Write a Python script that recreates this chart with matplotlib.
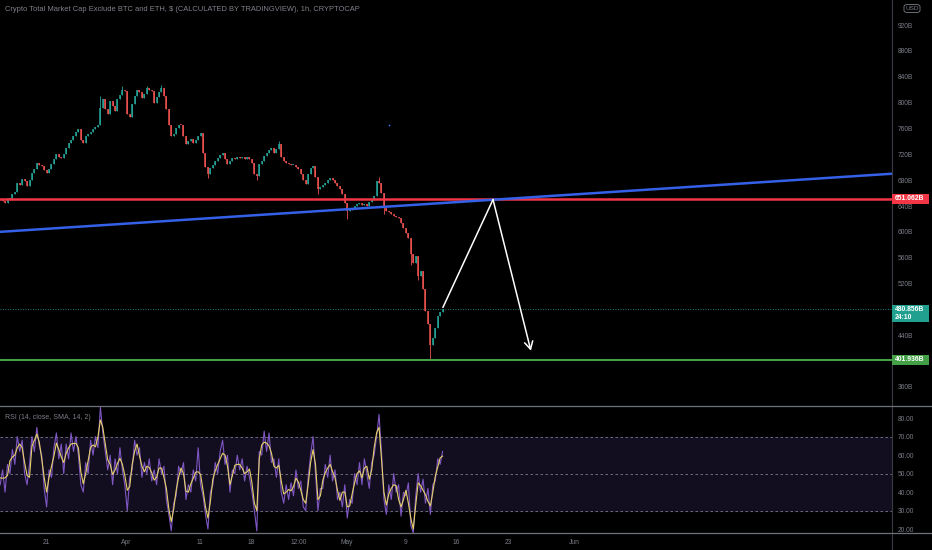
import numpy as np
import pandas as pd
import matplotlib
matplotlib.use("Agg")
import matplotlib.pyplot as plt
import matplotlib.dates as mdates
import matplotlib.transforms as mtransforms
from matplotlib.patches import Rectangle, FancyBboxPatch
from matplotlib.lines import Line2D

plt.rcParams["font.family"] = ["Liberation Sans", "DejaVu Sans"]

# ---- data (8h steps from 2022-03-14 18:00) ----
START = "2022-03-14 18:00"
STEP = "8h"
OPEN0 = 650
closes = [
    651, 648, 645, 652, 649, 658, 662, 676, 672, 682, 678, 671, 680, 691, 698, 707,
    704, 702, 696, 691, 697, 705, 712, 720, 716, 714, 721, 730, 737, 742, 749, 755,
    759, 742, 738, 748, 751, 755, 759, 762, 766, 792, 806, 790, 782, 803, 795, 787,
    805, 812, 820, 818, 782, 777, 798, 810, 820, 817, 807, 814, 822, 820, 818, 800,
    808, 816, 823, 810, 790, 765, 748, 752, 761, 766, 765, 748, 736, 741, 744, 738,
    742, 749, 753, 722, 700, 690, 699, 704, 710, 714, 719, 722, 713, 705, 710, 715,
    712, 716, 714, 716, 713, 716, 712, 707, 690, 686, 705, 710, 717, 722, 726, 730,
    722, 728, 736, 716, 710, 707, 705, 703, 704, 700, 698, 690, 680, 674, 690, 699,
    702, 685, 666, 670, 673, 676, 680, 684, 680, 675, 671, 666, 659, 645, 632, 634,
    637, 640, 643, 645, 641, 643, 640, 646, 650, 655, 678, 675, 660, 637, 633, 630,
    628, 625, 623, 621, 614, 606, 598, 590, 565, 552, 562, 532, 540, 512, 478, 458,
    425, 436, 451, 470, 476, 480.856,
]
wick_lows = {176: 401.936, 142: 620, 130: 659, 85: 684, 105: 680, 157: 628, 168: 548, 171: 526}
wick_highs = {155: 685, 41: 810, 66: 828, 50: 826, 60: 826, 114: 740}

rsi = [
    44, 52, 40, 55, 50, 63, 55, 70, 62, 68, 50, 44, 55, 70, 62, 75,
    65, 60, 42, 32, 52, 48, 64, 72, 58, 66, 50, 66, 58, 72, 62, 70,
    60, 44, 40, 56, 50, 68, 60, 70, 64, 86, 72, 62, 52, 60, 44, 58,
    50, 64, 52, 44, 30, 48, 52, 68, 60, 64, 48, 56, 50, 58, 46, 52,
    44, 58, 50, 54, 36, 28, 19, 34, 38, 54, 50, 56, 36, 44, 40, 52,
    46, 64, 44, 38, 28, 20, 40, 44, 56, 50, 62, 68, 55, 60, 40, 52,
    50, 60, 52, 58, 46, 54, 48, 40, 30, 19, 62, 60, 73, 62, 72, 56,
    58, 48, 58, 40, 34, 44, 36, 45, 38, 52, 42, 46, 32, 30, 48, 60,
    70, 50, 30, 42, 42, 55, 48, 60, 46, 52, 36, 40, 32, 44, 26, 36,
    34, 50, 44, 56, 44, 58, 50, 42, 56, 60, 70, 82, 62, 36, 28, 44,
    36, 50, 40, 44, 27, 40, 38, 45, 22, 18, 38, 50, 40, 47, 34, 42,
    28, 44, 46, 58, 55, 62,
]
rsi_ma = [
    47.7, 47.5, 47.7, 49, 57, 59, 60, 64, 66, 64, 56, 49, 48, 64.8, 68, 71.4,
    67, 58, 48, 40, 48, 54, 59.5, 66.5, 63, 59, 56, 61, 64, 66, 66.3, 66.4,
    64, 51, 44.5, 50, 57, 64.2, 65.5, 64.5, 70, 79, 75, 66, 57.5, 55, 49.5, 52,
    55.5, 58.3, 55, 49, 41, 43, 55, 62, 66, 59.5, 54, 51, 54, 53.3, 50.5, 46.5,
    48, 53, 53, 48, 42, 31, 24, 31, 41, 48, 53, 50, 40.5, 40, 44.5, 47.5,
    50.8, 51, 49.5, 41, 32, 26, 35, 47, 51.5, 55, 58, 61, 60, 54, 44, 49,
    54.5, 55, 55, 53, 50, 51, 52.5, 45, 34, 30, 58, 65.5, 67, 66.5, 65, 61,
    54, 53, 54.5, 46, 39, 40, 41.4, 40.7, 43, 47.5, 45.5, 41, 36, 34, 44, 56,
    63, 55, 36, 38, 46.5, 50.5, 53, 55, 51, 47.8, 41, 35.5, 40, 40, 32, 32.5,
    39, 45, 50, 51.5, 47.7, 53, 54, 47, 52, 64, 72, 75, 58, 40, 33, 39,
    42, 44, 43.5, 36, 32, 36, 41, 34, 26, 20, 33, 45, 43.5, 41, 38.6, 35,
    32.5, 40, 48.5, 53.5, 58.5, 59.5,
]

RESISTANCE = 651.062
SUPPORT = 401.936
LAST = 480.856
COUNTDOWN = "24:10"
TREND = [("2022-03-15", 600.2), ("2022-07-14", 689.7)]
ARROW = [("2022-05-14 03:00", 483), ("2022-05-20 23:00", 650), ("2022-05-26 03:00", 416)]
STRAY_DOT = ("2022-05-06 18:00", 765)
PRICE_TICKS = list(range(360, 921, 40))
HIDDEN_TICKS = [400, 480]          # sit fully under the price tags
RSI_TICKS = list(range(20, 81, 10))
X_TICKS = ["2022-03-21", "2022-04-01", "2022-04-11", "2022-04-18", "2022-04-24 12:00",
           "2022-05-01", "2022-05-09", "2022-05-16", "2022-05-23", "2022-06-01"]
X_LABELS = ["21", "Apr", "11", "18", "12:00", "May", "9", "16", "23", "Jun"]
TITLE = "Crypto Total Market Cap Exclude BTC and ETH, $ (CALCULATED BY TRADINGVIEW), 1h, CRYPTOCAP"

# ---- layout ----
W, H = 932, 550
AX_R = 891.5
GRAY = "#7b7e88"
UP, DOWN = "#26a69a", "#ef5350"

fig = plt.figure(figsize=(W / 100, H / 100), dpi=100, facecolor="black")
ax = fig.add_axes([0, 1 - 405.5 / H, AX_R / W, 405.5 / H])
rax = fig.add_axes([0, 1 - 533 / H, AX_R / W, (533 - 406.5) / H])

d21 = mdates.date2num(pd.Timestamp("2022-03-21"))
PX_DAY = 7.333
xlim = (d21 - 46 / PX_DAY, d21 + (AX_R - 46) / PX_DAY)

for a in (ax, rax):
    a.set_facecolor("black")
    a.set_xlim(*xlim)
    for s in a.spines.values():
        s.set_visible(False)
    a.yaxis.tick_right()
    a.tick_params(axis="y", length=0, pad=4.6, labelsize=4.8, labelcolor=GRAY)

ax.set_ylim(331.3, 958.8)
rax.set_ylim(17.9, 86.3)

# ---- candles ----
t = mdates.date2num(pd.date_range(START, periods=len(closes), freq=STEP))
c = np.array(closes, dtype=float)
o = np.r_[OPEN0, c[:-1]]
lo = np.minimum(o, c)
hi = np.maximum(o, c)
wl, wh = lo.copy(), hi.copy()
for i, v in wick_lows.items():
    wl[i] = v
for i, v in wick_highs.items():
    wh[i] = v
cols = np.where(c >= o, UP, DOWN)
ax.vlines(t, wl, wh, colors=cols, lw=0.6, zorder=3)
hi = np.maximum(hi, lo + 1.6)
ax.vlines(t, lo, hi, colors=cols, lw=1.1, zorder=3)

# ---- drawings ----
ax.axhline(RESISTANCE, color="#f23645", lw=1.8, zorder=4)
ax.axhline(SUPPORT, color="#43a047", lw=1.5, zorder=4)
ax.axhline(LAST, color="#26a69a", lw=0.6, ls=(0, (1, 2)), zorder=2)
(x1, y1), (x2, y2) = [(mdates.date2num(pd.Timestamp(d)), p) for d, p in TREND]
ax.axline((x1, y1), (x2, y2), color="#3560e8", lw=1.8, zorder=4)

ap = [(mdates.date2num(pd.Timestamp(d)), p) for d, p in ARROW]
ax.plot([ap[0][0], ap[1][0]], [ap[0][1], ap[1][1]], color="white", lw=1.1, zorder=6,
        solid_capstyle="round")
ax.annotate("", xy=ap[2], xytext=ap[1], zorder=6,
            arrowprops=dict(arrowstyle="->,head_length=0.55,head_width=0.3",
                            color="white", lw=1.1, shrinkA=0, shrinkB=0))
ax.plot(mdates.date2num(pd.Timestamp(STRAY_DOT[0])), STRAY_DOT[1], "o",
        ms=1.3, color="#3f6cf0", mew=0)

# ---- RSI pane ----
rax.axhspan(30, 70, color="#130e1f", zorder=0)
for lvl in (70, 50, 30):
    rax.axhline(lvl, color="#787b86", lw=0.6, ls=(0, (3, 3)), zorder=1)
rax.plot(t, rsi, color="#7e57c2", lw=0.8, zorder=3)
rax.plot(t, rsi_ma, color="#e6d06a", lw=0.8, zorder=4)
rax.text(5 / AX_R, 1 - 11 / 126.5, "RSI (14, close, SMA, 14, 2)", transform=rax.transAxes,
         color=GRAY, fontsize=5, va="center", ha="left")

# ---- axes labels ----
ax.set_yticks(PRICE_TICKS)
ax.set_yticklabels(["" if v in HIDDEN_TICKS else f"{v}B" for v in PRICE_TICKS])
rax.set_yticks(RSI_TICKS)
rax.set_yticklabels([f"{v:.2f}" for v in RSI_TICKS])
ax.set_xticks([])
rax.set_xticks([mdates.date2num(pd.Timestamp(d)) for d in X_TICKS])
rax.set_xticklabels(X_LABELS)
rax.tick_params(axis="x", length=0, pad=4.5, labelsize=4.8, labelcolor=GRAY)

# pane borders
fig.add_artist(Line2D([AX_R / W] * 2, [0, 1], color="#3a3c44", lw=0.8))
for py in (406, 533):
    fig.add_artist(Line2D([0, 1], [1 - py / H] * 2, color="#6f7178", lw=0.9))

# price tags on the scale
blend = mtransforms.blended_transform_factory(fig.transFigure, ax.transData)
px_b = 0.6455  # pixels per B on the price scale


def tag(price, text, color, h_px=9.3, dy_px=0.0):
    hh = h_px / px_b
    yc = price - dy_px / px_b
    fig.add_artist(Rectangle((892 / W, yc - hh / 2), 37 / W, hh, transform=blend,
                             facecolor=color, edgecolor="none", zorder=10))
    fig.text(894.5 / W, yc, text, transform=blend, color="white", fontsize=4.9,
             fontweight="bold", va="center", ha="left", zorder=11)


tag(RESISTANCE, f"{RESISTANCE:.3f}B", "#f23645")
tag(SUPPORT, f"{SUPPORT:.3f}B", "#43a047")
tag(LAST, f"{LAST:.3f}B\n{COUNTDOWN}", "#22a08f", h_px=16.7, dy_px=4.8)

fig.add_artist(FancyBboxPatch((904 / W, 1 - 12.5 / H), 16 / W, 8 / H,
                              boxstyle="round,pad=0,rounding_size=0.004",
                              transform=fig.transFigure, facecolor="black",
                              edgecolor=GRAY, lw=0.6))
fig.text(912 / W, 1 - 8.5 / H, "USD", color=GRAY, fontsize=4.6, ha="center", va="center")

fig.text(5 / W, 1 - 9.5 / H, TITLE, color="#80828b", fontsize=5.4, ha="left", va="center")

fig.savefig("out.png", dpi=100, facecolor="black")
